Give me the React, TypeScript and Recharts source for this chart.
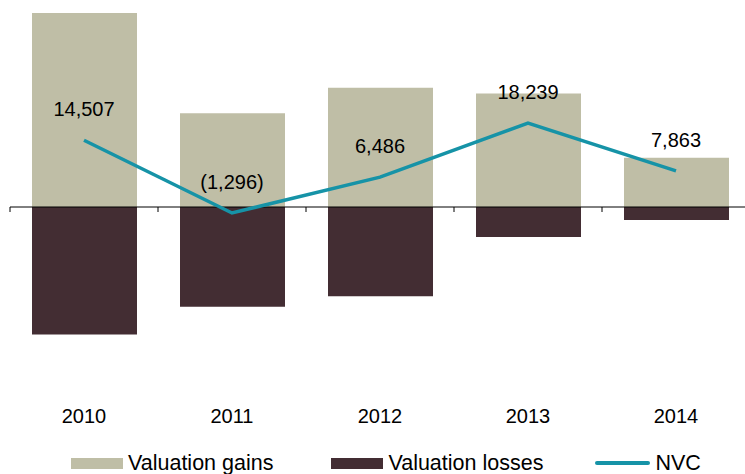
import React from "react";
import {
  ComposedChart,
  Bar,
  Line,
  XAxis,
  YAxis,
  ReferenceLine,
  Legend,
  LabelList,
} from "recharts";

const years = ["2010", "2011", "2012", "2013", "2014"];
const valuationGains = [42200, 20400, 25900, 24700, 10700];
const valuationLosses = [-27700, -21700, -19400, -6500, -2800];
const nvc = [14507, -1296, 6486, 18239, 7863];

const GAINS = "#bfbea6";
const LOSSES = "#432d33";
const NVC = "#1693a7";
const FONT = "'Liberation Sans', Arial, sans-serif";

const data = years.map((year, i) => ({
  year,
  gains: valuationGains[i],
  losses: valuationLosses[i],
  nvc: nvc[i],
}));

const fmt = (v: number) => {
  const s = Math.abs(v).toLocaleString("en-US");
  return v < 0 ? `(${s})` : s;
};

// zero line with category ticks hanging below it
function ZeroAxis(props: any) {
  const { x1, y1, x2 } = props;
  const step = (x2 - x1) / years.length;
  return (
    <g>
      <line x1={x1} y1={y1} x2={x2} y2={y1} stroke="#000" strokeWidth={1} />
      {years.map((_, i) => (
        <line
          key={i}
          x1={x1 + i * step}
          y1={y1}
          x2={x1 + i * step}
          y2={y1 + 5}
          stroke="#000"
          strokeWidth={1}
        />
      ))}
    </g>
  );
}

function YearTick({ x, y, payload }: any) {
  return (
    <text x={x} y={y} dy={24} textAnchor="middle" fontSize={20} fill="#000" fontFamily={FONT}>
      {payload.value}
    </text>
  );
}

function LegendContent() {
  const item = (swatch: React.ReactNode, label: string, ml: number) => (
    <div style={{ display: "flex", alignItems: "center", marginLeft: ml }}>
      {swatch}
      <span style={{ marginLeft: 5 }}>{label}</span>
    </div>
  );
  return (
    <div
      style={{
        height: 43,
        display: "flex",
        alignItems: "flex-end",
        fontFamily: FONT,
        fontSize: 21.5,
        lineHeight: "22px",
        color: "#000",
      }}
    >
      {item(<div style={{ width: 52, height: 11, background: GAINS }} />, "Valuation gains", 61)}
      {item(<div style={{ width: 52, height: 11, background: LOSSES }} />, "Valuation losses", 58)}
      {item(
        <div style={{ width: 55, height: 3.5, borderRadius: 2, background: NVC }} />,
        "NVC",
        52
      )}
    </div>
  );
}

export default function App() {
  return (
    <div
      style={{
        position: "absolute",
        left: 0,
        top: 0,
        width: 745,
        height: 474,
        overflow: "hidden",
        background: "#fff",
      }}
    >
      <ComposedChart
        width={750}
        height={474}
        data={data}
        stackOffset="sign"
        margin={{ top: 0, right: 0, left: 10, bottom: 0 }}
      >
        <XAxis
          dataKey="year"
          axisLine={false}
          tickLine={false}
          height={40}
          tick={<YearTick />}
          interval={0}
        />
        <YAxis hide domain={[-40000, 45000]} allowDataOverflow />
        <Bar dataKey="gains" stackId="v" fill={GAINS} barSize={105} isAnimationActive={false} />
        <Bar dataKey="losses" stackId="v" fill={LOSSES} barSize={105} isAnimationActive={false} />
        <ReferenceLine y={0} shape={<ZeroAxis />} />
        <Line
          dataKey="nvc"
          stroke={NVC}
          strokeWidth={3.5}
          dot={false}
          isAnimationActive={false}
        >
          <LabelList
            dataKey="nvc"
            position="top"
            offset={24}
            formatter={(v: any) => fmt(Number(v))}
            style={{ fontSize: 20, fontFamily: FONT, fill: "#000" }}
          />
        </Line>
        <Legend verticalAlign="bottom" content={<LegendContent />} />
      </ComposedChart>
    </div>
  );
}
